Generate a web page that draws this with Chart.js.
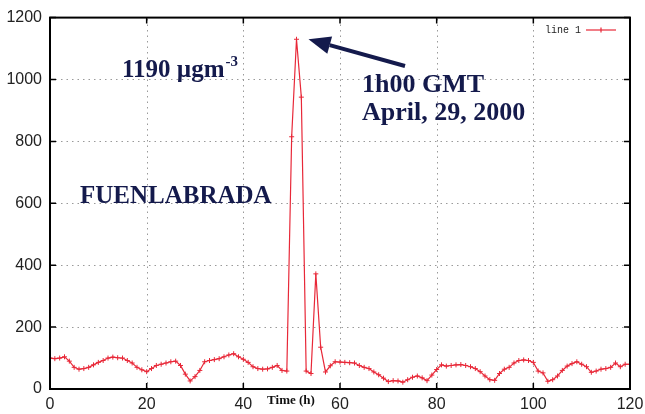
<!DOCTYPE html>
<html>
<head>
<meta charset="utf-8">
<script src="https://cdn.jsdelivr.net/npm/chart.js@4.4.1/dist/chart.umd.min.js"></script>
<style>
  html, body { margin: 0; padding: 0; background: #fff; }
  canvas { display: block; }
</style>
</head>
<body>
<canvas id="c" width="645" height="414"></canvas>
<script>
// ---- Data ----
const hours = [
  0,1,2,3,4,5,6,7,8,9,10,11,12,13,14,15,16,17,18,19,
  20,21,22,23,24,25,26,27,28,29,30,31,32,33,34,35,36,37,38,39,
  40,41,42,43,44,45,46,47,48,49,50,51,52,53,54,55,56,57,58,59,
  60,61,62,63,64,65,66,67,68,69,70,71,72,73,74,75,76,77,78,79,
  80,81,82,83,84,85,86,87,88,89,90,91,92,93,94,95,96,97,98,99,
  100,101,102,103,104,105,106,107,108,109,110,111,112,113,114,115,116,117,118,119,120
];
const concentration = [
  100,98,100,104,90,70,64,66,70,78,86,92,100,103,101,100,92,84,70,62,
  56,66,76,80,84,88,90,76,48,26,40,60,88,92,95,98,104,110,114,104,
  96,86,72,66,64,65,70,76,60,58,815,1130,943,58,50,372,135,55,75,88,
  87,86,85,84,76,70,66,55,46,35,24,27,26,22,30,38,42,36,27,45,
  63,78,74,76,78,79,76,72,66,56,42,30,28,50,64,70,84,92,94,92,
  86,58,52,25,30,42,60,74,82,88,80,72,54,58,64,66,70,84,72,80,80
];
const seriesLabel = "line 1";
const xTicks = [0, 20, 40, 60, 80, 100, 120];
const yTicks = [0, 200, 400, 600, 800, 1000, 1200];
const xTitle = "Time (h)";
const peakValueText = "1190 \u00B5gm";
const peakUnitSup = "-3";
const timeText1 = "1h00 GMT";
const timeText2 = "April, 29, 2000";
const stationText = "FUENLABRADA";
const peakHour = 51;
const peakValue = 1130;

const lineColor = "rgb(232,40,56)";
const navy = "#141a4c";

const points = hours.map((h, i) => ({ x: h, y: concentration[i] }));

const gridPlugin = {
  id: "dottedGrid",
  beforeDatasetsDraw(chart) {
    const ctx = chart.ctx;
    const a = chart.chartArea;
    const xs = chart.scales.x, ys = chart.scales.y;
    ctx.save();
    ctx.strokeStyle = "#9a9a9a";
    ctx.lineWidth = 1;
    ctx.setLineDash([1.5, 4]);
    xTicks.forEach(v => {
      const px = Math.round(xs.getPixelForValue(v)) + 0.5;
      if (v === xTicks[0] || v === xTicks[xTicks.length - 1]) return;
      ctx.beginPath(); ctx.moveTo(px, a.bottom); ctx.lineTo(px, a.top); ctx.stroke();
    });
    yTicks.forEach(v => {
      const py = Math.round(ys.getPixelForValue(v)) + 0.5;
      if (v === yTicks[0] || v === yTicks[yTicks.length - 1]) return;
      ctx.beginPath(); ctx.moveTo(a.left, py); ctx.lineTo(a.right, py); ctx.stroke();
    });
    ctx.restore();
  }
};

const decorPlugin = {
  id: "decor",
  afterDatasetsDraw(chart) {
    const ctx = chart.ctx;
    const a = chart.chartArea;
    const xs = chart.scales.x, ys = chart.scales.y;
    ctx.save();
    // frame
    ctx.strokeStyle = "#000";
    ctx.lineWidth = 2;
    ctx.strokeRect(a.left, a.top, a.right - a.left, a.bottom - a.top);
    // inward tick marks (mirror)
    ctx.lineWidth = 1.5;
    xTicks.forEach(v => {
      const px = xs.getPixelForValue(v);
      ctx.beginPath();
      ctx.moveTo(px, a.bottom); ctx.lineTo(px, a.bottom - 6);
      ctx.moveTo(px, a.top); ctx.lineTo(px, a.top + 6);
      ctx.stroke();
    });
    yTicks.forEach(v => {
      const py = ys.getPixelForValue(v);
      ctx.beginPath();
      ctx.moveTo(a.left, py); ctx.lineTo(a.left + 6, py);
      ctx.moveTo(a.right, py); ctx.lineTo(a.right - 6, py);
      ctx.stroke();
    });
    // legend
    ctx.font = "10px 'Liberation Mono', 'DejaVu Sans Mono', monospace";
    ctx.fillStyle = "#222";
    ctx.textBaseline = "middle";
    ctx.textAlign = "left";
    ctx.fillText(seriesLabel, 545, 30);
    ctx.strokeStyle = lineColor;
    ctx.lineWidth = 1.2;
    ctx.beginPath(); ctx.moveTo(586, 30); ctx.lineTo(616, 30); ctx.stroke();
    ctx.beginPath(); ctx.moveTo(601, 27.5); ctx.lineTo(601, 32.5); ctx.stroke();

    // annotations
    ctx.fillStyle = navy;
    ctx.textBaseline = "alphabetic";
    ctx.font = "bold 25px 'Liberation Serif', 'DejaVu Serif', serif";
    ctx.fillText(peakValueText, 122, 77);
    const w = ctx.measureText(peakValueText).width;
    ctx.font = "bold 15px 'Liberation Serif', 'DejaVu Serif', serif";
    ctx.fillText(peakUnitSup, 122 + w + 1, 66);

    ctx.font = "bold 26px 'Liberation Serif', 'DejaVu Serif', serif";
    ctx.fillText(timeText1, 362, 92);
    ctx.fillText(timeText2, 362, 120);

    ctx.font = "bold 25px 'Liberation Serif', 'DejaVu Serif', serif";
    ctx.fillText(stationText, 80, 203);

    // x axis title
    ctx.font = "bold 13px 'Liberation Serif', 'DejaVu Serif', serif";
    ctx.fillStyle = "#111";
    ctx.textAlign = "center";
    ctx.fillText(xTitle, 291, 404);

    // arrow
    const tipX = xs.getPixelForValue(peakHour) + 12;
    const tipY = ys.getPixelForValue(peakValue);
    const tailX = 405, tailY = 66;
    const ang = Math.atan2(tipY - tailY, tipX - tailX);
    const headLen = 22, headW = 9;
    const bx = tipX - headLen * Math.cos(ang), by = tipY - headLen * Math.sin(ang);
    ctx.strokeStyle = navy;
    ctx.lineWidth = 4;
    ctx.beginPath(); ctx.moveTo(tailX, tailY); ctx.lineTo(bx, by); ctx.stroke();
    ctx.fillStyle = navy;
    ctx.beginPath();
    ctx.moveTo(tipX, tipY);
    ctx.lineTo(bx + headW * Math.sin(ang), by - headW * Math.cos(ang));
    ctx.lineTo(bx - headW * Math.sin(ang), by + headW * Math.cos(ang));
    ctx.closePath();
    ctx.fill();
    ctx.restore();
  }
};

new Chart(document.getElementById("c"), {
  type: "line",
  data: {
    datasets: [{
      label: seriesLabel,
      data: points,
      borderColor: lineColor,
      backgroundColor: lineColor,
      borderWidth: 1.2,
      pointStyle: "cross",
      pointRadius: 2.5,
      pointBorderWidth: 1,
      tension: 0,
      fill: false
    }]
  },
  options: {
    responsive: false,
    devicePixelRatio: 1,
    animation: false,
    layout: { padding: { top: 15, right: 0, left: 0, bottom: 0 } },
    plugins: { legend: { display: false }, tooltip: { enabled: false } },
    scales: {
      x: {
        type: "linear",
        min: 0, max: 120,
        afterBuildTicks: s => { s.ticks = xTicks.map(v => ({ value: v })); },
        afterFit: s => { s.height = 25; s.paddingRight = 15; s.paddingLeft = 0; },
        ticks: { color: "#222", font: { family: "'Liberation Sans', Arial, sans-serif", size: 16 }, padding: 6, maxRotation: 0, autoSkip: false, callback: v => String(v) },
        grid: { display: false, drawTicks: false },
        border: { display: false }
      },
      y: {
        type: "linear",
        min: 0, max: 1200,
        afterBuildTicks: s => { s.ticks = yTicks.map(v => ({ value: v })); },
        afterFit: s => { s.width = 50; },
        ticks: { color: "#222", font: { family: "'Liberation Sans', Arial, sans-serif", size: 16 }, padding: 8, callback: v => String(v) },
        grid: { display: false, drawTicks: false },
        border: { display: false }
      }
    }
  },
  plugins: [gridPlugin, decorPlugin]
});
</script>
</body>
</html>
